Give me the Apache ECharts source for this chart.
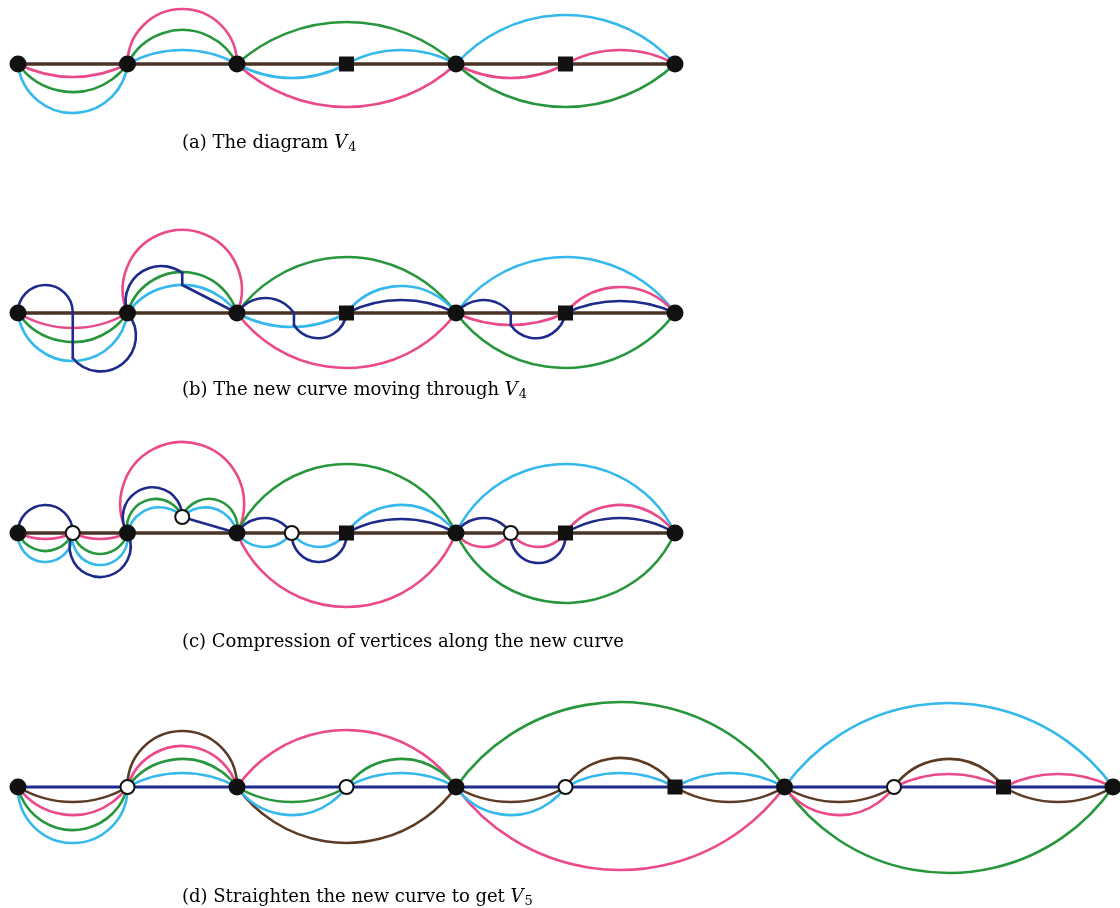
<!DOCTYPE html>
<html>
<head>
<meta charset="utf-8">
<style>
  html, body { margin: 0; padding: 0; background: #fff; }
  #main { width: 1120px; height: 908px; }
</style>
<script src="https://cdn.jsdelivr.net/npm/echarts@6/dist/echarts.min.js"></script>
</head>
<body>
<div id="main"></div>
<script>
// curve colours of the diagram
var colours = {
    pink: '#ea4a8a',
    green: '#27963c',
    cyan: '#35b8ec',
    navy: '#1f2b8a',
    brown: '#5c3b25'
};

// vertex positions: [position along the line, offset from the line]
var dotsA = [[0, 0], [1, 0], [2, 0], [4, 0], [6, 0]];
var squaresA = [[3, 0], [5, 0]];
var dotsB = [[0, 0], [1, 0], [2, 0], [4, 0], [6, 0]];
var squaresB = [[3, 0], [5, 0]];
var dotsC = [[0, 0], [1, 0], [2, 0], [4, 0], [6, 0]];
var squaresC = [[3, 0], [5, 0]];
var whitesC = [[0.5, 0], [1.5, 16], [2.5, 0], [4.5, 0]];
var dotsD = [[0, 0], [2, 0], [4, 0], [7, 0], [10, 0]];
var squaresD = [[6, 0], [9, 0]];
var whitesD = [[1, 0], [3, 0], [5, 0], [8, 0]];

// the straight curve of each diagram: [from, to]
var lineA = [0, 6];
var lineB = [0, 6];
var lineC = [0, 6];
var lineD = [0, 10];

// arcs: [colour, x1, y1, x2, y2, bulge]  (bulge 0 = straight piece, + above, - below)
var arcsA = [
    ['pink', 0, 0, 1, 0, -13], ['green', 0, 0, 1, 0, -28], ['cyan', 0, 0, 1, 0, -49],
    ['pink', 1, 0, 2, 0, 55], ['green', 1, 0, 2, 0, 34], ['cyan', 1, 0, 2, 0, 14],
    ['cyan', 2, 0, 3, 0, -14], ['cyan', 3, 0, 4, 0, 14],
    ['green', 2, 0, 4, 0, 42], ['pink', 2, 0, 4, 0, -43],
    ['pink', 4, 0, 5, 0, -14], ['pink', 5, 0, 6, 0, 14],
    ['cyan', 4, 0, 6, 0, 49], ['green', 4, 0, 6, 0, -43]
];

var arcsB = [
    ['pink', 0, 0, 1, 0, -15], ['green', 0, 0, 1, 0, -29], ['cyan', 0, 0, 1, 0, -48],
    ['pink', 1, 0, 2, 0, 83], ['green', 1, 0, 2, 0, 41], ['cyan', 1, 0, 2, 0, 28],
    ['green', 2, 0, 4, 0, 56], ['pink', 2, 0, 4, 0, -55],
    ['cyan', 2, 0, 3, 0, -14], ['cyan', 3, 0, 4, 0, 27],
    ['cyan', 4, 0, 6, 0, 56], ['green', 4, 0, 6, 0, -55],
    ['pink', 4, 0, 5, 0, -12], ['pink', 5, 0, 6, 0, 26],
    // the new curve
    ['navy', 0, 0, 0.5, 0, 28], ['navy', 0.5, 0, 0.5, -45, 0], ['navy', 0.5, -45, 1, 0, -36],
    ['navy', 1, 0, 1.5, 40, 25], ['navy', 1.5, 40, 1.5, 28, 0], ['navy', 1.5, 28, 2, 0, 0],
    ['navy', 2, 0, 2.52, 0, 15], ['navy', 2.52, 0, 2.52, -12, 0], ['navy', 2.52, -12, 3, 0, -19],
    ['navy', 3, 0, 4, 0, 13],
    ['navy', 4, 0, 4.5, 0, 13], ['navy', 4.5, 0, 4.5, -12, 0], ['navy', 4.5, -12, 5, 0, -19],
    ['navy', 5, 0, 6, 0, 12]
];

var arcsC = [
    ['pink', 0, 0, 0.5, 0, -6], ['green', 0, 0, 0.5, 0, -18], ['cyan', 0, 0, 0.5, 0, -29],
    ['navy', 0, 0, 0.5, 0, 28],
    ['pink', 0.5, 0, 1, 0, -6], ['green', 0.5, 0, 1, 0, -21], ['cyan', 0.5, 0, 1, 0, -32],
    ['navy', 0.5, 0, 1, 0, -44],
    ['pink', 1, 0, 2, 0, 91],
    ['navy', 1, 0, 1.5, 16, 38], ['green', 1, 0, 1.5, 16, 26], ['cyan', 1, 0, 1.5, 16, 17],
    ['green', 1.5, 16, 2, 0, 26], ['cyan', 1.5, 16, 2, 0, 17], ['navy', 1.5, 16, 2, 0, 0],
    ['green', 2, 0, 4, 0, 69], ['pink', 2, 0, 4, 0, -74],
    ['navy', 2, 0, 2.5, 0, 15], ['cyan', 2, 0, 2.5, 0, -14],
    ['navy', 2.5, 0, 3, 0, -29], ['cyan', 2.5, 0, 3, 0, -14],
    ['cyan', 3, 0, 4, 0, 28], ['navy', 3, 0, 4, 0, 14],
    ['cyan', 4, 0, 6, 0, 69], ['green', 4, 0, 6, 0, -70],
    ['navy', 4, 0, 4.5, 0, 15], ['pink', 4, 0, 4.5, 0, -14],
    ['pink', 4.5, 0, 5, 0, -14], ['navy', 4.5, 0, 5, 0, -30],
    ['pink', 5, 0, 6, 0, 28], ['navy', 5, 0, 6, 0, 15]
];

var arcsD = [
    ['brown', 0, 0, 1, 0, -15], ['pink', 0, 0, 1, 0, -28], ['green', 0, 0, 1, 0, -43], ['cyan', 0, 0, 1, 0, -56],
    ['brown', 1, 0, 2, 0, 56], ['pink', 1, 0, 2, 0, 41], ['green', 1, 0, 2, 0, 28], ['cyan', 1, 0, 2, 0, 14],
    ['pink', 2, 0, 4, 0, 57], ['brown', 2, 0, 4, 0, -56],
    ['green', 2, 0, 3, 0, -15], ['cyan', 2, 0, 3, 0, -28],
    ['green', 3, 0, 4, 0, 28], ['cyan', 3, 0, 4, 0, 14],
    ['green', 4, 0, 7, 0, 85], ['pink', 4, 0, 7, 0, -83],
    ['brown', 4, 0, 5, 0, -15], ['cyan', 4, 0, 5, 0, -28],
    ['brown', 5, 0, 6, 0, 29], ['cyan', 5, 0, 6, 0, 14],
    ['cyan', 6, 0, 7, 0, 14], ['brown', 6, 0, 7, 0, -15],
    ['cyan', 7, 0, 10, 0, 84], ['green', 7, 0, 10, 0, -86],
    ['brown', 7, 0, 8, 0, -15], ['pink', 7, 0, 8, 0, -28],
    ['brown', 8, 0, 9, 0, 28], ['pink', 8, 0, 9, 0, 13],
    ['pink', 9, 0, 10, 0, 13], ['brown', 9, 0, 10, 0, -15]
];

var captions = ['(a) The diagram ', '(b) The new curve moving through ', '(c) Compression of vertices along the new curve', '(d) Straighten the new curve to get '];
var captionSymbols = ['V', 'V', '', 'V'];
var captionSubs = ['4', '4', '', '5'];

// panel layout: top of each plot, room above and below the line
var panels = [
    { top: 4, up: 60, down: 60 },
    { top: 213, up: 100, down: 80 },
    { top: 433, up: 100, down: 80 },
    { top: 687, up: 100, down: 100 }
];
var captionY = [143, 390, 642, 897];

var allArcs = [arcsA, arcsB, arcsC, arcsD];
var allLines = [lineA, lineB, lineC, lineD];
var allDots = [dotsA, dotsB, dotsC, dotsD];
var allSquares = [squaresA, squaresB, squaresC, squaresD];
var allWhites = [[], [], whitesC, whitesD];

function arcRenderer(arcs) {
    return function (params, api) {
        var a = arcs[params.dataIndex];
        var p0 = api.coord([a[1], a[2]]);
        var p1 = api.coord([a[3], a[4]]);
        var style = { stroke: colours[a[0]], lineWidth: 2.6, fill: null, lineCap: 'round' };
        if (!a[5]) {
            return { type: 'line', shape: { x1: p0[0], y1: p0[1], x2: p1[0], y2: p1[1] }, style: style };
        }
        var s = Math.abs(api.size([0, a[5]])[1]);
        var dx = p1[0] - p0[0], dy = p1[1] - p0[1];
        var L = Math.sqrt(dx * dx + dy * dy);
        var sign = a[5] > 0 ? 1 : -1;
        var nx = sign * dy / L, ny = -sign * dx / L; // bulge direction on screen
        var r = (L * L / 4 + s * s) / (2 * s);
        var cx = (p0[0] + p1[0]) / 2 + nx * (s - r);
        var cy = (p0[1] + p1[1]) / 2 + ny * (s - r);
        return {
            type: 'arc',
            shape: {
                cx: cx, cy: cy, r: r,
                startAngle: Math.atan2(p0[1] - cy, p0[0] - cx),
                endAngle: Math.atan2(p1[1] - cy, p1[0] - cx),
                clockwise: a[5] > 0
            },
            style: style
        };
    };
}

var grids = [], xAxes = [], yAxes = [], series = [], texts = [];
panels.forEach(function (p, i) {
    grids.push({ left: 18, width: 1095, top: p.top, height: p.up + p.down, show: false });
    xAxes.push({ gridIndex: i, type: 'value', min: 0, max: 10, show: false });
    yAxes.push({ gridIndex: i, type: 'value', min: -p.down, max: p.up, show: false });

    var ends = allLines[i];
    series.push({
        type: 'line', xAxisIndex: i, yAxisIndex: i, symbol: 'none', clip: false, silent: true, z: 2,
        data: [[ends[0], 0], [ends[1], 0]],
        lineStyle: i < 3 ? { color: '#4a3326', width: 3.5 } : { color: colours.navy, width: 3 }
    });

    var arcs = allArcs[i];
    series.push({
        type: 'custom', xAxisIndex: i, yAxisIndex: i, clip: false, silent: true, z: 3,
        renderItem: arcRenderer(arcs),
        encode: { x: [0, 2], y: [1, 3] },
        data: arcs.map(function (a) { return [a[1], a[2], a[3], a[4]]; })
    });

    series.push({
        type: 'scatter', xAxisIndex: i, yAxisIndex: i, clip: false, silent: true, z: 10,
        symbol: 'circle', symbolSize: 17, itemStyle: { color: '#111', opacity: 1 },
        data: allDots[i]
    });
    series.push({
        type: 'scatter', xAxisIndex: i, yAxisIndex: i, clip: false, silent: true, z: 10,
        symbol: 'rect', symbolSize: 15, itemStyle: { color: '#111', opacity: 1 },
        data: allSquares[i]
    });
    series.push({
        type: 'scatter', xAxisIndex: i, yAxisIndex: i, clip: false, silent: true, z: 10,
        symbol: 'circle', symbolSize: 14,
        itemStyle: { color: '#fff', borderColor: '#111', borderWidth: 2, opacity: 1 },
        data: allWhites[i]
    });

    var txt = '{n|' + captions[i] + '}';
    if (captionSymbols[i]) txt += '{v|' + captionSymbols[i] + '}{s|' + captionSubs[i] + '}';
    texts.push({
        type: 'text', x: 182, y: captionY[i],
        style: {
            text: txt,
            verticalAlign: 'middle',
            rich: {
                n: { fontFamily: 'DejaVu Serif', fontSize: 18, color: '#383838' },
                v: { fontFamily: 'DejaVu Serif', fontStyle: 'italic', fontSize: 18, color: '#383838' },
                s: { fontFamily: 'DejaVu Serif', fontSize: 13, color: '#383838', padding: [9, 0, 0, 1] }
            }
        }
    });
});

var chartDom = document.getElementById('main');
var myChart = echarts.init(chartDom);
var option = {
    animation: false,
    backgroundColor: '#fff',
    grid: grids,
    xAxis: xAxes,
    yAxis: yAxes,
    series: series,
    graphic: texts
};
myChart.setOption(option);
</script>
</body>
</html>
